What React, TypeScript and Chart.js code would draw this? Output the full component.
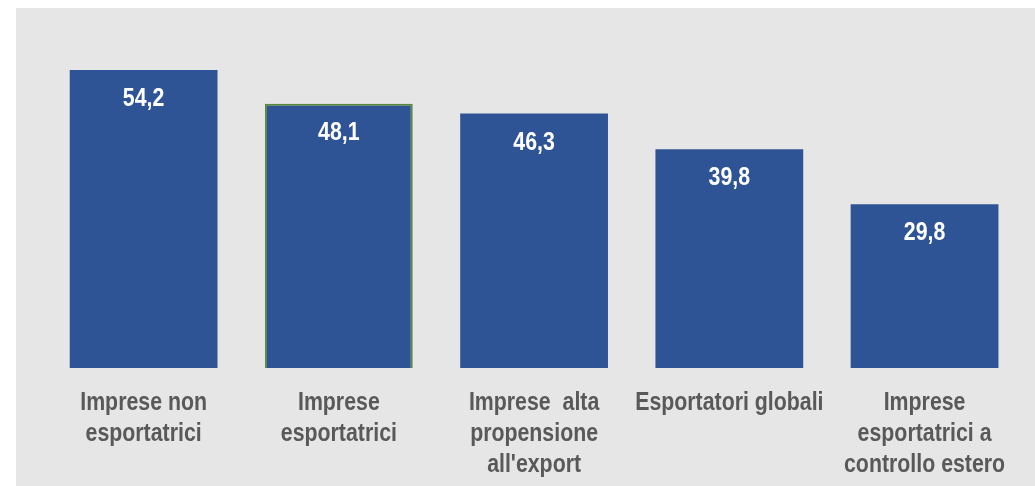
import React, { useEffect, useRef } from "react";
import { Chart, registerables, CategoryScale } from "chart.js";

const categories: string[][] = [
  ["Imprese non", "esportatrici"],
  ["Imprese", "esportatrici"],
  ["Imprese  alta", "propensione", "all'export"],
  ["Esportatori globali"],
  ["Imprese", "esportatrici a", "controllo estero"],
];
const values: number[] = [54.2, 48.1, 46.3, 39.8, 29.8];
const valueLabels: string[] = ["54,2", "48,1", "46,3", "39,8", "29,8"];

const FONT = "'Liberation Sans', Arial, sans-serif";
const NARROW = 0.82;

class NarrowCategoryScale extends (CategoryScale as any) {
  static id = "narrowCategory";
  static defaults = (CategoryScale as any).defaults;
  drawLabels(chartArea: any) {
    const ctx = (this as any).ctx;
    const items = (this as any).getLabelItems(chartArea);
    for (const item of items) {
      const { label, font, options, textOffset } = item;
      ctx.save();
      ctx.translate(options.translation[0], options.translation[1]);
      ctx.scale(NARROW, 1);
      ctx.font = font.string;
      ctx.fillStyle = options.color;
      ctx.textAlign = options.textAlign;
      ctx.textBaseline = options.textBaseline;
      const lines = Array.isArray(label) ? label : [label];
      lines.forEach((l: string, i: number) => {
        ctx.fillText(l, 0, textOffset + i * font.lineHeight);
      });
      ctx.restore();
    }
  }
}

Chart.register(...registerables, NarrowCategoryScale as any);

const valuePlugin = {
  id: "valueLabels",
  afterDatasetsDraw(chart: any) {
    const ctx = chart.ctx;
    const meta = chart.getDatasetMeta(0);
    meta.data.forEach((bar: any, i: number) => {
      ctx.save();
      ctx.fillStyle = "#ffffff";
      ctx.font = `bold 26px ${FONT}`;
      ctx.textAlign = "center";
      ctx.textBaseline = "middle";
      ctx.translate(bar.x, bar.y + 29);
      ctx.scale(NARROW, 1);
      ctx.fillText(valueLabels[i], 0, 0);
      ctx.restore();
    });
  },
};

export default function App() {
  const ref = useRef<HTMLCanvasElement>(null);
  useEffect(() => {
    if (!ref.current) return;
    const chart = new Chart(ref.current, {
      type: "bar",
      data: {
        labels: categories,
        datasets: [
          {
            data: values,
            backgroundColor: "#2f5496",
            borderColor: ["#2f5496", "#5b8a3c", "#2f5496", "#2f5496", "#2f5496"],
            borderWidth: [0, 2, 0, 0, 0],
            categoryPercentage: 1,
            barPercentage: 0.757,
          },
        ],
      },
      options: {
        animation: false,
        responsive: false,
        maintainAspectRatio: false,
        layout: { padding: { left: 30, right: 12, top: 0, bottom: 0 } },
        plugins: { legend: { display: false }, tooltip: { enabled: false } },
        scales: {
          y: { display: false, min: 0, max: 65.5 },
          x: {
            type: "narrowCategory" as any,
            grid: { display: false },
            border: { display: false },
            ticks: {
              color: "#595959",
              font: { family: FONT, size: 26, weight: "bold", lineHeight: 1.2 },
              maxRotation: 0,
              minRotation: 0,
              autoSkip: false,
              padding: 11,
            },
            afterFit: (scale: any) => {
              scale.height = 118;
            },
          },
        },
      },
      plugins: [valuePlugin],
    });
    return () => chart.destroy();
  }, []);
  return (
    <div
      style={{
        position: "absolute",
        left: 16,
        top: 8,
        width: 1019,
        height: 478,
        background: "#e6e6e6",
      }}
    >
      <canvas ref={ref} width={1019} height={478} style={{ display: "block" }} />
    </div>
  );
}
